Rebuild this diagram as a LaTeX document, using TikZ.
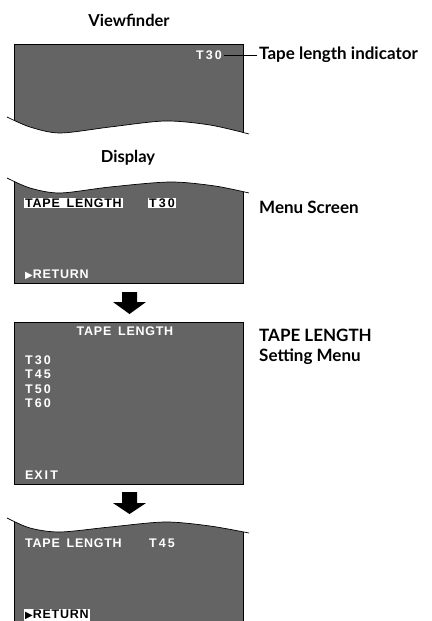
\documentclass[tikz,border=0pt]{standalone}
\usepackage{fontspec}
\setmainfont{Lato}
\newfontfamily\osdfont[LetterSpace=6,WordSpace=1.6]{Liberation Sans}
\newfontfamily\symfont{DejaVu Sans}
\definecolor{screen}{RGB}{100,100,100}
\tikzstyle{title}=[font=\bfseries\fontsize{16.5}{18}\selectfont,inner sep=0pt]
\tikzstyle{label}=[font=\bfseries\fontsize{17}{20}\selectfont,inner sep=0pt,anchor=west,align=left]
\tikzstyle{osd}=[font=\osdfont\bfseries\fontsize{12.5}{13}\selectfont,text=white,inner sep=0pt,anchor=west]
\tikzstyle{hilite}=[osd,fill=white,text=black,inner sep=1pt]
\tikzstyle{frame}=[draw=black,fill=screen,line width=0.7pt]
\tikzstyle{wave}=[line width=0.7pt]
\tikzstyle{blockarrow}=[fill=black]
\newcommand{\tri}{{\symfont\fontsize{10}{10}\selectfont ▶}}

\begin{document}
\begin{tikzpicture}[x=1pt,y=-1pt]
                    \useasboundingbox (0,0) rectangle (431,621);

                    % viewfinder
                    \node (vftitle) at (129,20) [title] {Viewfinder};
                    \begin{scope}
                        \clip plot[smooth] coordinates {(7,117) (30,127) (60,133) (110,127) (165,121) (210,125) (249,134)} -- (249,0) -- (7,0) -- cycle;
                        \draw [frame] (14,44) rectangle (243,160);
                    \end{scope}
                    \draw [wave] plot[smooth] coordinates {(7,117) (30,127) (60,133) (110,127) (165,121) (210,125) (249,134)};
                    \node (vft30) at (222,55) [osd,anchor=east] {T\,3\,0};
                    \node (tapeind) at (259,55) [label] {Tape length indicator};
                    \draw [line width=1pt,shorten <=2pt,shorten >=2pt] (vft30.east) -- (tapeind.west);

                    % menu screen
                    \node (disptitle) at (128,158) [title] {Display};
                    \begin{scope}
                        \clip plot[smooth] coordinates {(7,178) (30,188) (60,193) (110,187) (170,182) (215,186) (249,193)} -- (249,300) -- (7,300) -- cycle;
                        \draw [frame] (14,170) rectangle (243,283);
                    \end{scope}
                    \draw [wave] plot[smooth] coordinates {(7,178) (30,188) (60,193) (110,187) (170,182) (215,186) (249,193)};
                    \node (m1len) at (24,203) [hilite] {TAPE LENGTH};
                    \node (m1t30) at (148,203) [hilite] {T\,3\,0};
                    \node (m1ret) at (25,275) [osd] {\tri RETURN};
                    \node (menulbl) at (259,207) [label] {Menu Screen};

                    \fill [blockarrow] (122,292) -- (137,292) -- (137,302) -- (146,302) -- (129.5,314) -- (113,302) -- (122,302) -- cycle;

                    % setting menu
                    \draw [frame] (14,322) rectangle (243,484);
                    \node (s2len) at (125,331) [osd,anchor=center] {TAPE LENGTH};
                    \node (s2t30) at (25,360) [osd] {T\,3\,0};
                    \node (s2t45) at (25,374) [osd] {T\,4\,5};
                    \node (s2t50) at (25,389) [osd] {T\,5\,0};
                    \node (s2t60) at (25,403) [osd] {T\,6\,0};
                    \node (s2exit) at (25,475) [osd] {EX\,I\,T};
                    \node (setlbl) at (259,347) [label] {TAPE LENGTH\\Setting Menu};

                    \fill [blockarrow] (122,492) -- (137,492) -- (137,503) -- (146,503) -- (129.5,514) -- (113,503) -- (122,503) -- cycle;

                    % result screen
                    \begin{scope}
                        \clip plot[smooth] coordinates {(7,518) (30,528) (60,532) (110,527) (165,522) (210,526) (249,533)} -- (249,640) -- (7,640) -- cycle;
                        \draw [frame] (14,510) rectangle (243,623);
                    \end{scope}
                    \draw [wave] plot[smooth] coordinates {(7,518) (30,528) (60,532) (110,527) (165,522) (210,526) (249,533)};
                    \node (m3len) at (25,543) [osd] {TAPE LENGTH};
                    \node (m3t45) at (149,543) [osd] {T\,4\,5};
                    \node (m3ret) at (24,615) [hilite] {\tri RETURN};
                \end{tikzpicture}
\end{document}
